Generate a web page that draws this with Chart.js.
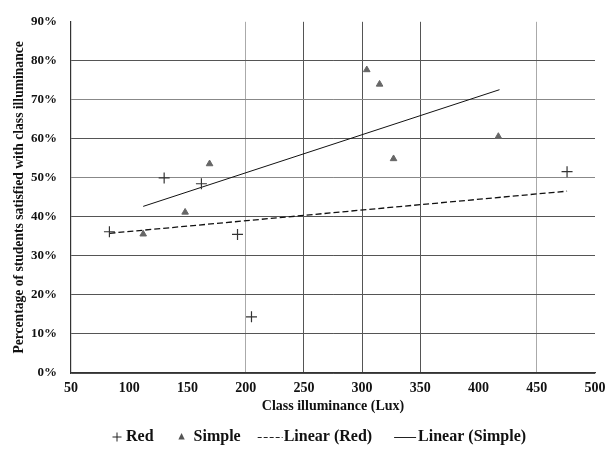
<!DOCTYPE html>
<html><head><meta charset="utf-8">
<script src="https://cdn.jsdelivr.net/npm/chart.js@4/dist/chart.umd.min.js"></script>
<style>html,body{margin:0;padding:0;background:#fff}</style>
</head><body>
<canvas id="c" width="606" height="451"></canvas>
<script>
// ---- data ----
const redX = [83, 130, 162, 193, 205, 476];
const redY = [36.2, 50.0, 48.5, 35.5, 14.4, 51.6];
const simpleX = [112, 148, 169, 304, 315, 327, 417];
const simpleY = [35.6, 41.2, 53.6, 77.7, 74.0, 54.9, 60.6];
const trendRedX = [83, 476];
const trendRedY = [35.8, 46.6];
const trendSimpleX = [112, 418];
const trendSimpleY = [42.7, 72.6];
const seriesNames = ['Red', 'Simple', 'Linear (Red)', 'Linear (Simple)'];
const xTitle = 'Class illuminance (Lux)';
const yTitle = 'Percentage of students satisfied with class illuminance';

const pts = (xs, ys) => xs.map((x, i) => ({x, y: ys[i]}));
const FONT = "'Liberation Serif', 'Times New Roman', serif";

const datasets = [
  {label: seriesNames[0], data: pts(redX, redY), pointStyle: 'cross', pointRadius: 5.5,
   borderColor: '#333', backgroundColor: '#333', pointBorderWidth: 1.2, showLine: false},
  {label: seriesNames[1], data: pts(simpleX, simpleY), pointStyle: 'triangle', pointRadius: 3.8,
   borderColor: '#666', backgroundColor: '#666', pointBorderWidth: 1, showLine: false},
  {label: seriesNames[2], data: pts(trendRedX, trendRedY), showLine: true, pointRadius: 0,
   borderColor: '#111', borderWidth: 1.3, borderDash: [6, 3], backgroundColor: '#111'},
  {label: seriesNames[3], data: pts(trendSimpleX, trendSimpleY), showLine: true, pointRadius: 0,
   borderColor: '#111', borderWidth: 1, backgroundColor: '#111'}
];

// legend marker kinds: marker width, gap to text, spacing after text
const legendMarkers = [
  {kind: 'cross', w: 12, gap: 3, after: 23},
  {kind: 'triangle', w: 10, gap: 7, after: 17},
  {kind: 'dash', w: 25, gap: 1, after: 22},
  {kind: 'line', w: 22, gap: 2, after: 0}
];

const customLegend = {
  id: 'customLegend',
  afterDraw(chart) {
    const ctx = chart.ctx;
    ctx.save();
    ctx.font = "bold 16px " + FONT;
    ctx.textBaseline = 'middle';
    ctx.fillStyle = '#111';
    const y = 437;
    let x = 111;
    chart.data.datasets.forEach((d, i) => {
      const m = legendMarkers[i];
      ctx.strokeStyle = '#222';
      ctx.lineWidth = 1;
      ctx.setLineDash([]);
      if (m.kind === 'cross') {
        const cx = x + m.w / 2;
        ctx.beginPath();
        ctx.moveTo(cx - 4.5, y); ctx.lineTo(cx + 4.5, y);
        ctx.moveTo(cx, y - 4.5); ctx.lineTo(cx, y + 4.5);
        ctx.stroke();
      } else if (m.kind === 'triangle') {
        const cx = x + m.w / 2;
        ctx.fillStyle = '#555';
        ctx.beginPath();
        ctx.moveTo(cx, y - 4); ctx.lineTo(cx + 3.2, y + 2.5); ctx.lineTo(cx - 3.2, y + 2.5);
        ctx.closePath(); ctx.fill();
        ctx.fillStyle = '#111';
      } else {
        if (m.kind === 'dash') ctx.setLineDash([4, 2]);
        ctx.beginPath();
        ctx.moveTo(x, y + 0.5); ctx.lineTo(x + m.w, y + 0.5);
        ctx.stroke();
        ctx.setLineDash([]);
      }
      x += m.w + m.gap;
      ctx.fillText(d.label, x, y);
      x += ctx.measureText(d.label).width + m.after;
    });
    ctx.restore();
  }
};

const vGridColor = v => {
  if (v === 250 || v === 300 || v === 350) return '#555';
  if (v === 200 || v === 450) return '#aaa';
  return 'rgba(0,0,0,0)';
};
const hGridColor = v => {
  if (v === 90) return 'rgba(0,0,0,0)';
  if (v === 70 || v === 50) return '#888';
  return '#555';
};

new Chart(document.getElementById('c'), {
  type: 'scatter',
  data: {datasets},
  plugins: [customLegend],
  options: {
    responsive: false,
    animation: false,
    layout: {padding: {left: 0, right: 11, top: 21, bottom: 22}},
    plugins: {
      tooltip: {enabled: false},
      legend: {display: false}
    },
    scales: {
      x: {
        type: 'linear', min: 50, max: 500,
        ticks: {stepSize: 50, color: '#111', padding: 7, font: {family: FONT, size: 14, weight: 'bold'}},
        grid: {color: c => vGridColor(c.tick.value), drawTicks: false, lineWidth: 1},
        border: {display: true, color: '#333', width: 1.2},
        title: {display: true, text: xTitle, color: '#111', padding: {top: 14, bottom: 14},
                font: {family: FONT, size: 14, weight: 'bold'}},
        afterFit: s => { s.height = 56; s.paddingRight = 0; s.paddingLeft = 0; }
      },
      y: {
        type: 'linear', min: 0, max: 90,
        ticks: {stepSize: 10, color: '#111', padding: 14, callback: v => v + '%',
                font: {family: FONT, size: 13, weight: 'bold'}},
        grid: {color: c => hGridColor(c.tick.value), drawTicks: false, lineWidth: 1},
        border: {display: true, color: '#333', width: 1.2},
        title: {display: true, text: yTitle, color: '#111', padding: {top: 11, bottom: 8},
                font: {family: FONT, size: 13.6, weight: 'bold'}},
        afterFit: s => { s.width = 71; }
      }
    }
  }
});
</script>
</body></html>
